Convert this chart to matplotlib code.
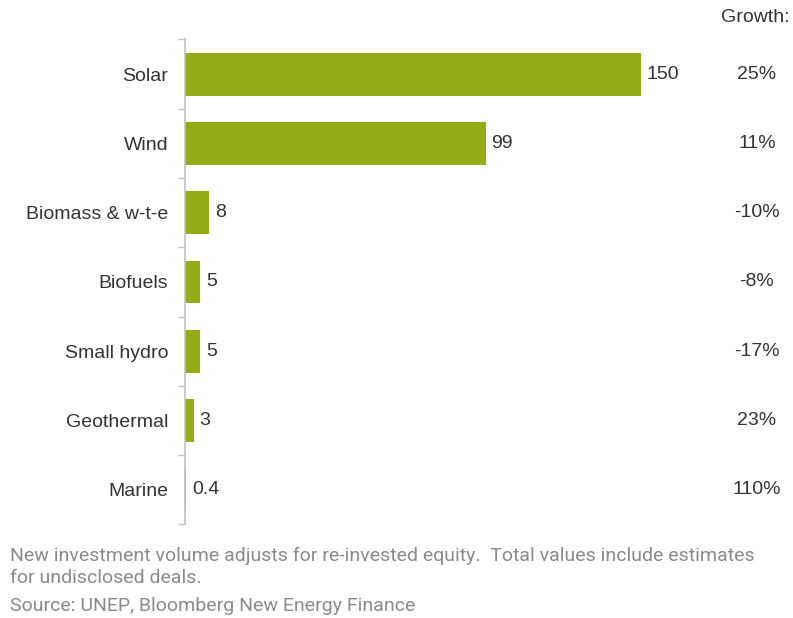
import matplotlib.pyplot as plt
import numpy as np

# data
categories = ["Solar", "Wind", "Biomass & w-t-e", "Biofuels", "Small hydro", "Geothermal", "Marine"]
investment = [150, 99, 8, 5, 5, 3, 0.4]
value_labels = ["150", "99", "8", "5", "5", "3", "0.4"]
growth = ["25%", "11%", "-10%", "-8%", "-17%", "23%", "110%"]

bar_color = "#92ad17"
text_color = "#333333"

plt.rcParams['font.family'] = ['Liberation Sans', 'DejaVu Sans']

fig = plt.figure(figsize=(7.93, 6.18), dpi=100)
ax = fig.add_axes([185 / 793, 1 - 524.5 / 618, (641 - 185) / 793, 485 / 618])

y = np.arange(len(categories))
ax.barh(y, investment, height=0.62, color=bar_color)
ax.set_ylim(len(categories) - 0.5, -0.5)
ax.set_xlim(0, 150)

# value labels next to bars
for yi, v, lab in zip(y, investment, value_labels):
    ax.annotate(lab, (v, yi), xytext=(4, 0), textcoords="offset points",
                va="center", ha="left", fontsize=14, color=text_color)

# category labels
ax.set_yticks(y)
ax.set_yticklabels(categories, fontsize=14, color=text_color)
ax.tick_params(axis="y", which="major", length=0, pad=12)
ax.set_yticks(np.arange(-0.5, len(categories), 1), minor=True)
ax.tick_params(axis="y", which="minor", length=5, width=1, color="#c0c0c0")
ax.set_xticks([])

for s in ["top", "right", "bottom"]:
    ax.spines[s].set_visible(False)
ax.spines["left"].set_color("#c0c0c0")
ax.spines["left"].set_linewidth(1.2)

# growth column
for yi, g in zip(y, growth):
    ax.annotate(g, xy=(757 / 793, yi), xycoords=("figure fraction", "data"),
                ha="center", va="center", fontsize=14, color=text_color)
fig.text(790 / 793, 1 - 18 / 618, "Growth:", ha="right", va="center",
         fontsize=14, color=text_color)

# footnotes
note_color = "#8a8a8a"
note_font = dict(ha="left", va="center", fontsize=14, color=note_color, family="Roboto")
fig.text(10 / 793, 1 - 556 / 618,
         "New investment volume adjusts for re-invested equity.  Total values include estimates", **note_font)
fig.text(10 / 793, 1 - 578 / 618, "for undisclosed deals.", **note_font)
fig.text(10 / 793, 1 - 606 / 618, "Source: UNEP, Bloomberg New Energy Finance", **note_font)

fig.savefig("out.png", dpi=100)
